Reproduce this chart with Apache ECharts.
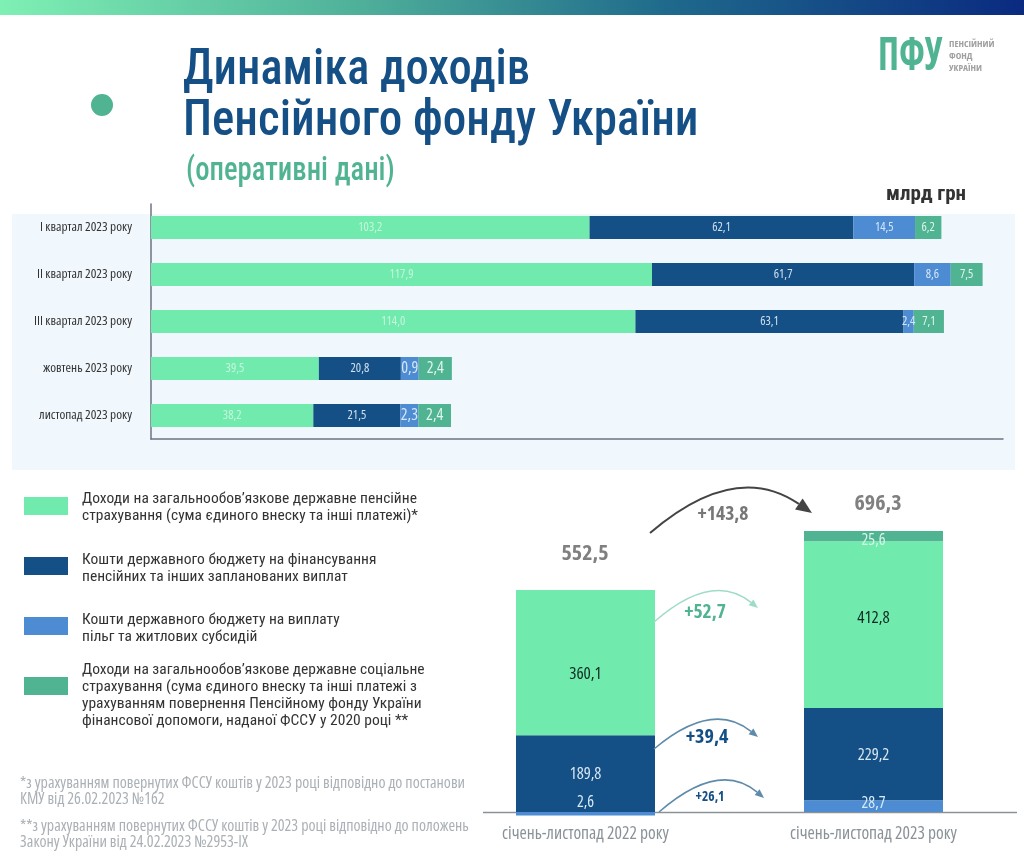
<!DOCTYPE html>
<html><head><meta charset="utf-8">
<style>html,body{margin:0;padding:0;background:#fff}#c{width:1024px;height:858px}</style>
<script src="https://cdn.jsdelivr.net/npm/echarts@6/dist/echarts.min.js"></script>
</head><body><div id="c"></div>
<script>
// ---- data ----
const periods = ['І квартал 2023 року','ІІ квартал 2023 року','ІІІ квартал 2023 року','жовтень 2023 року','листопад 2023 року'];
const pensionValues = [103.2,117.9,114.0,39.5,38.2];
const budgetLabels = [62.1,61.7,63.1,20.8,21.5];
const benefitLabels = [14.5,8.6,2.4,0.9,2.3];
const socialLabels = [6.2,7.5,7.1,2.4,2.4];
// the reference draws the two monthly rows out of scale with their printed values
const budgetLengths = [62.1,61.7,63.1,19.3,20.5];
const benefitLengths = [14.5,8.6,2.4,4.2,4.2];
const socialLengths = [6.2,7.5,7.1,7.8,7.7];

const years = ['січень-листопад 2022 року','січень-листопад 2023 року'];
const yearBenefit = [2.6,28.7];
const yearBudget = [189.8,229.2];
const yearPension = [360.1,412.8];
const yearSocial = [null,25.6];
const yearTotals = ['552,5','696,3'];
const yearBenefitDrawn = [-9,28.7]; // the reference draws the 2022 segment below the baseline

const legendNames = [
 'Доходи на загальнообов\u2019язкове державне пенсійне\nстрахування (сума єдиного внеску та інші платежі)*',
 'Кошти державного бюджету на фінансування\nпенсійних та інших запланованих виплат',
 'Кошти державного бюджету на виплату\nпільг та житлових субсидій',
 'Доходи на загальнообов\u2019язкове державне соціальне\nстрахування (сума єдиного внеску та інші платежі з\nурахуванням повернення Пенсійному фонду України\nфінансової допомоги, наданої ФССУ у 2020 році **'
];
const footnotes = [
 '*з урахуванням повернутих ФССУ коштів у 2023 році відповідно до постанови\nКМУ від 26.02.2023 №162',
 '**з урахуванням повернутих ФССУ коштів у 2023 році відповідно до положень\nЗакону України від 24.02.2023 №2953-ІХ'
];
// ---- style ----
const RC = '"Roboto Condensed","Roboto",sans-serif';
const OS = '"Open Sans",sans-serif';
const COND = 'condensed', BCOND = 'bold condensed';
const GREEN='#70ebad', NAVY='#144f85', BLUE='#4d8cd2', TEAL='#50b392';
const fmt = v => v.toFixed(1).replace('.',',');

function topSeries(i, lengths, labels, color, labelColor){
  return {name:legendNames[i],type:'bar',stack:'top',xAxisIndex:0,yAxisIndex:0,barWidth:23,
    itemStyle:{color},
    data:lengths.map((v,k)=>{
      const big = k>=3 && i>=2;
      return {value:v,
        itemStyle: (k>=3 && i===3) ? {borderColor:color,borderWidth:2} : undefined,
        label:{fontSize:big?16:12.5}};
    }),
    label:{show:true,position:'inside',fontFamily:OS,fontWeight:COND,color:labelColor,formatter:p=>fmt(labels[p.dataIndex])}};
}
function botSeries(i, drawn, labels, color, labelColor, offsets, size){
  return {name:legendNames[i],type:'bar',stack:'bottom',xAxisIndex:1,yAxisIndex:1,barWidth:139,
    itemStyle:{color},
    data:drawn.map((v,k)=>({value:v,label:{offset:offsets[k]}})),
    label:{show:true,position:'inside',fontFamily:OS,fontWeight:COND,fontSize:size,color:labelColor,
      formatter:p=>labels[p.dataIndex]==null?'':fmt(labels[p.dataIndex])}};
}
function curve(x1,y1,cx,cy,x2,y2,color,w,head){
  const a=Math.atan2(y2-cy,x2-cx), L=head, W=head*0.42;
  const bx=x2-L*Math.cos(a), by=y2-L*Math.sin(a);
  return [
   {type:'bezierCurve',z:5,shape:{x1,y1,cpx1:cx,cpy1:cy,x2:bx,y2:by},style:{stroke:color,lineWidth:w,fill:null}},
   {type:'polygon',z:5,shape:{points:[[x2,y2],[bx-W*Math.sin(a),by+W*Math.cos(a)],[bx+W*Math.sin(a),by-W*Math.cos(a)]]},style:{fill:color}}
  ];
}
function txt(text,x,y,size,color,font,weight,align,lh,sx){
  return {type:'text',z:6,x,y,scaleX:sx||1,style:{text,fontFamily:font,fontSize:size,fill:color,fontWeight:weight||'normal',
    textAlign:align||'left',textVerticalAlign:'middle',lineHeight:lh||undefined}};
}
const legendTops=[487.5,546,606,642.5], legendPads=[3,6,6,19];
const legendText={fontFamily:RC,fontSize:15.5,color:'#333',lineHeight:17};
const option={
 animation:false,
 backgroundColor:'#fff',
 tooltip:{show:false},
 legend:legendNames.map((n,i)=>({
   show:true,data:[n],left:24,top:legendTops[i],
   orient:'vertical',itemWidth:44,itemHeight:18,itemGap:0,padding:0,selectedMode:false,icon:'rect',
   formatter:s=>'{s| }\n'+s.split('\n').map(l=>'{a|'+l+'}').join('\n'),
   textStyle:{...legendText,padding:[0,0,0,9],
     rich:{a:{...legendText},s:{fontSize:1,lineHeight:legendPads[i]}}}
 })),
 grid:[
  {left:151,top:204,width:852,height:235},
  {left:441.5,top:529.5,width:576,height:290.5}
 ],
 xAxis:[
  {gridIndex:0,type:'value',min:0,max:200.5,splitLine:{show:false},axisLabel:{show:false},axisTick:{show:false},
   axisLine:{show:true,lineStyle:{color:'#6b7480',width:1.5}}},
  {gridIndex:1,type:'category',data:years,axisTick:{show:false},axisLine:{show:false},
   axisLabel:{margin:6,interval:0,fontFamily:OS,fontWeight:COND,fontSize:17.5,color:'#8a9298',lineHeight:17}}
 ],
 yAxis:[
  {gridIndex:0,type:'category',inverse:true,data:periods,axisTick:{show:false},
   axisLine:{show:true,lineStyle:{color:'#6b7480',width:1.5}},
   axisLabel:{margin:19,fontFamily:OS,fontWeight:COND,fontSize:13.3,color:'#333'}},
  {gridIndex:1,type:'value',min:-20,max:700,show:false,splitLine:{show:false}}
 ],
 series:[
  topSeries(0,pensionValues,pensionValues,GREEN,'#c6f5dd'),
  topSeries(1,budgetLengths,budgetLabels,NAVY,'#cfe0ee'),
  topSeries(2,benefitLengths,benefitLabels,BLUE,'#d6e6f6'),
  topSeries(3,socialLengths,socialLabels,TEAL,'#dff5ec'),
  botSeries(2,yearBenefitDrawn,yearBenefit,BLUE,'#d6ecf4',[[0,-11],[0,-3]],16),
  botSeries(1,yearBudget,yearBudget,NAVY,'#d6e6f2',[[0,1],[0,1]],16.5),
  botSeries(0,yearPension,yearPension,GREEN,'#0f2a22',[[0,11],[0,-6]],17),
  botSeries(3,yearSocial.map(v=>v==null?'-':v),yearSocial,TEAL,'#d6f5e8',[[0,0],[0,4]],16)
 ],
 graphic:[
  {type:'rect',z:-2,shape:{x:0,y:0,width:1024,height:15},
   style:{fill:new echarts.graphic.LinearGradient(0,0,1,0,[{offset:0,color:'#7ff0b4'},{offset:0.35,color:'#4fb09a'},{offset:0.65,color:'#1f6a8c'},{offset:1,color:'#0a2a80'}])}},
  {type:'rect',z:-2,shape:{x:12,y:214,width:1003,height:256},style:{fill:'#f0f7fd'}},
  {type:'circle',z:1,shape:{cx:102,cy:105,r:11},style:{fill:TEAL}},
  txt('Динаміка доходів',183,71,50,NAVY,RC,'500','left',null,0.93),
  txt('Пенсійного фонду України',183,122,50,NAVY,RC,'500','left',null,0.94),
  txt('(оперативні дані)',186,172,33,TEAL,RC,'500','left',null,0.87),
  txt('ПФУ',878,57,46,TEAL,OS,BCOND,'left',null,0.8),
  txt('ПЕНСІЙНИЙ\nФОНД\nУКРАЇНИ',949,56,9.5,'#a0a0a0',OS,BCOND,'left',12),
  txt('млрд грн',886,195,21,'#333',RC,'bold'),
  {type:'line',z:1,shape:{x1:483,y1:812.5,x2:1017,y2:812.5},style:{stroke:'#8a9298',lineWidth:1.5}},
  txt(yearTotals[0],585,554,22,'#808080',OS,BCOND,'center'),
  txt(yearTotals[1],878,504,22,'#808080',OS,BCOND,'center'),
  txt('+143,8',723,514,19.5,'#777',OS,BCOND,'center'),
  txt('+52,7',705,612,19.5,TEAL,OS,BCOND,'center'),
  txt('+39,4',707,737,20,NAVY,OS,BCOND,'center'),
  txt('+26,1',710,797,13.5,NAVY,OS,BCOND,'center'),
  ...curve(650,533,735,460,812,513,'#444',2,16),
  ...curve(654,622,712,571,758,608,'#9fdcc8',1.5,9),
  ...curve(654,749,712,700,758,737,'#5f8bab',1.5,9),
  ...curve(659,812,719,760,764,798,'#5f8bab',1.5,9),
  txt(footnotes[0],20,791,16,'#aab0b5',OS,COND,'left',16),
  txt(footnotes[1],20,834,16,'#aab0b5',OS,COND,'left',16)
 ]
};
const chart=echarts.init(document.getElementById('c'),null,{renderer:'canvas',width:1024,height:858});
chart.setOption(option);
</script></body></html>
